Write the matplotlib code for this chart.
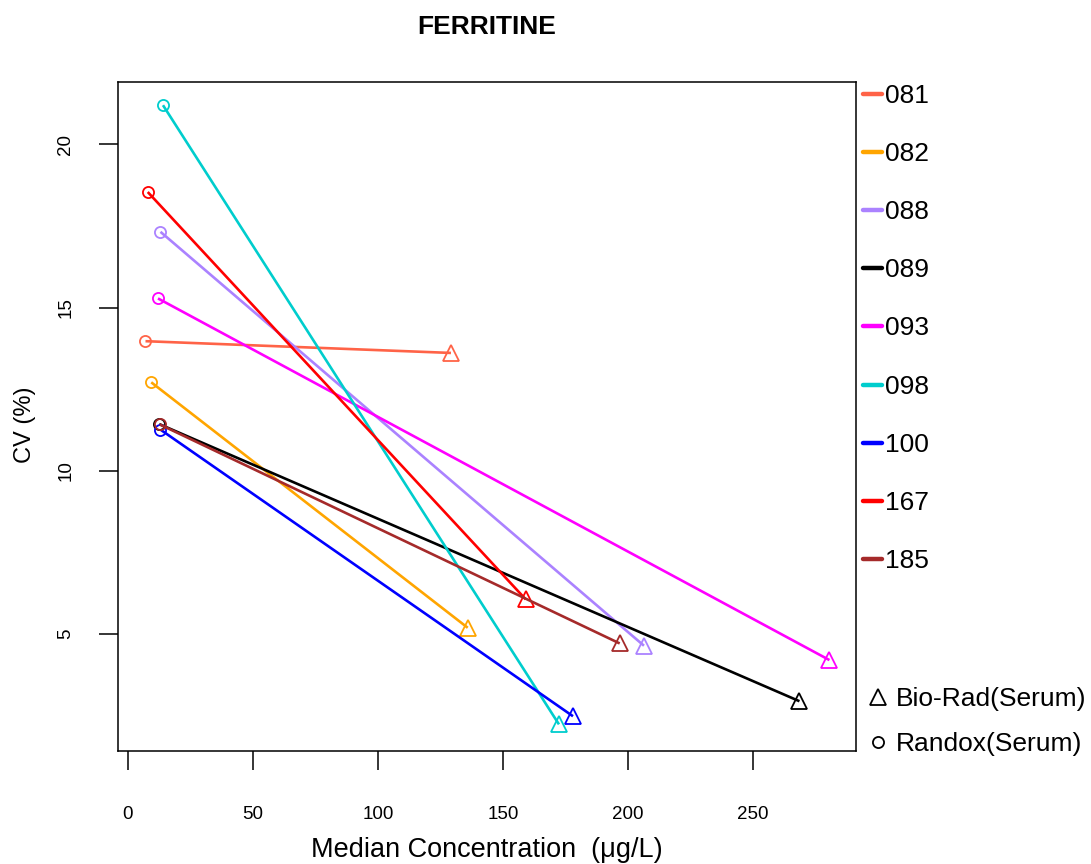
import matplotlib
matplotlib.use("Agg")
import matplotlib.pyplot as plt
from matplotlib.lines import Line2D

# ---- data ----
labs = ["081", "082", "088", "089", "093", "098", "100", "167", "185"]
colors = ["#FF6347", "#FFA500", "#AB82FF", "#000000", "#FF00FF",
          "#00CDCD", "#0000FF", "#FF0000", "#A52A2A"]
randox_x = [7.0, 9.3, 13.0, 12.5, 12.0, 14.0, 13.0, 7.9, 12.7]
randox_cv = [13.97, 12.71, 17.32, 11.43, 15.28, 21.20, 11.26, 18.54, 11.42]
biorad_x = [129.2, 135.9, 206.4, 268.6, 280.6, 172.4, 178.0, 159.1, 196.7]
biorad_cv = [13.61, 5.19, 4.64, 2.94, 4.20, 2.23, 2.48, 6.06, 4.71]
xticks = [0, 50, 100, 150, 200, 250]
yticks = [5, 10, 15, 20]

W, H = 1091, 864
fig = plt.figure(figsize=(W / 100, H / 100), dpi=100)
plt.rcParams['font.family'] = ['Liberation Sans', 'DejaVu Sans']

L, R, B, T = 117.5, 855.7, 750.5, 81.7
ax = fig.add_axes([L / W, 1 - B / H, (R - L) / W, (B - T) / H])

for i in range(len(labs)):
    ax.plot([randox_x[i], biorad_x[i]], [randox_cv[i], biorad_cv[i]],
            color=colors[i], lw=1.9, solid_capstyle='butt')
    ax.plot(randox_x[i], randox_cv[i], 'o', mfc='none', mec=colors[i],
            ms=8, mew=1.3)
    ax.plot(biorad_x[i], biorad_cv[i], '^', mfc='none', mec=colors[i],
            ms=11.5, mew=1.3)

ax.set_xlim(-4.2, 291.1)
ax.set_ylim(1.43, 21.92)
ax.set_xticks(xticks)
ax.set_yticks(yticks)
ax.set_xticklabels([str(v) for v in xticks], fontsize=13.5)
ax.set_yticklabels([str(v) for v in yticks], fontsize=13.5, rotation=90,
                   va='center')
ax.tick_params(axis='x', length=14, width=1.1, pad=26)
ax.tick_params(axis='y', length=14, width=1.1, pad=17)
for s in ax.spines.values():
    s.set_linewidth(1.1)

fig.text(486.6 / W, 1 - 27 / H, "FERRITINE", ha='center', va='center',
         fontsize=19, fontweight='bold')
fig.text(486.6 / W, 1 - 850 / H, "Median Concentration  (\u03bcg/L)",
         ha='center', va='center', fontsize=19.5)
fig.text(25 / W, 1 - 425 / H, "CV (%)", ha='center', va='center',
         fontsize=17, rotation=90)

# legend (manual, right margin)
y0, dy = 94, 58.1
for i, (lab, c) in enumerate(zip(labs, colors)):
    yy = 1 - (y0 + i * dy) / H
    fig.add_artist(Line2D([863 / W, 882 / W], [yy, yy], color=c, lw=3.2,
                          solid_capstyle='round', transform=fig.transFigure))
    fig.text(885 / W, 1 - (y0 + i * dy + 2) / H, lab, ha='left',
             va='center', fontsize=19)

mk_labels = ["Bio-Rad(Serum)", "Randox(Serum)"]
mk_shapes = ['^', 'o']
mk_sizes = [12, 8]
mk_y = [697, 742]
for lab, m, s, yp in zip(mk_labels, mk_shapes, mk_sizes, mk_y):
    yy = 1 - yp / H
    fig.add_artist(Line2D([878 / W], [yy], marker=m, mfc='none', mec='black',
                          ms=s, mew=1.3, ls='none',
                          transform=fig.transFigure))
    fig.text(896 / W, 1 - (yp + 2) / H, lab, ha='left', va='center',
             fontsize=19)

fig.savefig("out.png", dpi=100)
